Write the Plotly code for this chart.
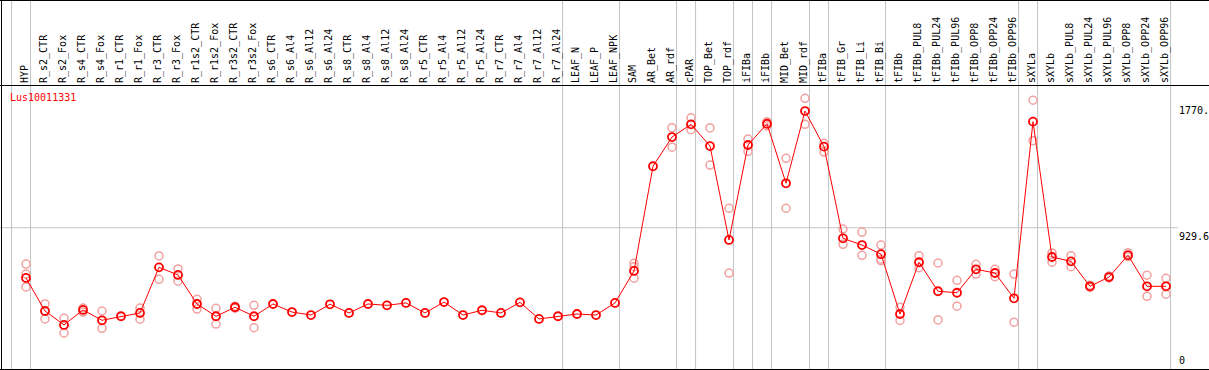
import plotly.graph_objects as go

categories = ["HYP", "R_s2_CTR", "R_s2_Fox", "R_s4_CTR", "R_s4_Fox", "R_r1_CTR", "R_r1_Fox",
              "R_r3_CTR", "R_r3_Fox", "R_r1s2_CTR", "R_r1s2_Fox", "R_r3s2_CTR", "R_r3s2_Fox",
              "R_s6_CTR", "R_s6_Al4", "R_s6_Al12", "R_s6_Al24", "R_s8_CTR", "R_s8_Al4", "R_s8_Al12",
              "R_s8_Al24", "R_r5_CTR", "R_r5_Al4", "R_r5_Al12", "R_r5_Al24", "R_r7_CTR", "R_r7_Al4",
              "R_r7_Al12", "R_r7_Al24", "LEAF_N", "LEAF_P", "LEAF_NPK", "SAM", "AR_Bet", "AR_rdf",
              "cPAR", "TOP_Bet", "TOP_rdf", "iFIBa", "iFIBb", "MID_Bet", "MID_rdf", "tFIBa",
              "tFIB_Gr", "tFIB_Li", "tFIB_Bi", "tFIBb", "tFIBb_PUL8", "tFIBb_PUL24", "tFIBb_PUL96",
              "tFIBb_OPP8", "tFIBb_OPP24", "tFIBb_OPP96", "sXYLa", "sXYLb", "sXYLb_PUL8",
              "sXYLb_PUL24", "sXYLb_PUL96", "sXYLb_OPP8", "sXYLb_OPP24", "sXYLb_OPP96"]

mean_values = [594, 373, 280, 380, 311, 338, 360, 665, 614, 420, 338, 398, 338,
               420, 366, 346, 418, 360, 420, 411, 427, 360, 433, 346, 378, 360, 431,
               320, 338, 353, 346, 427, 641, 1341, 1536, 1621, 1476, 848, 1483, 1625,
               1227, 1710, 1472, 859, 814, 753, 353, 699, 505, 495, 652, 627, 458,
               1639, 734, 705, 538, 600, 746, 538, 538]

rep1_values = [687, 420, 324, 393, 373, None, 393, 741, 654, 451, 391, 405, 411,
               None, None, None, None, None, None, None, None, None, None, None, None, None, None,
               None, None, None, None, None, 692, None, 1599, 1665, 1597, 1060, 1523, 1639,
               1394, 1795, 1494, 921, 901, 814, 398, 743, 694, 578, 685, 652, 620,
               1782, 761, 743, 545, 607, 763, 612, 592]

rep2_values = [534, 320, 226, 366, 257, None, 318, 585, 572, 386, 286, 392, 261,
               None, None, None, None, None, None, None, None, None, None, None, None, None, None,
               None, None, None, None, None, 592, None, 1468, 1585, 1349, 627, 1441, 1610,
               1060, 1621, 1436, 819, 745, 709, 310, 663, 313, 405, 620, 602, 298,
               1512, 699, 669, 531, 594, 736, 471, 485]

rep3_values = [620, None, None, None, None, None, None, None, None, None, None, None, None,
               None, None, None, None, None, None, None, None, None, None, None, None, None, None,
               None, None, None, None, None, 669, None, None, None, None, None, None, None,
               None, None, None, None, None, 719, None, None, None, None, None, None, None,
               None, None, None, None, None, None, None, None]

separator_after = [-1, 0, 28, 31, 34, 35, 37, 38, 39, 41, 42, 45, 52, 53, 60]
y_tick_values = [0, 929.6, 1770]
y_tick_labels = ["0", "929.6", "1770."]
gene_name = "Lus10011331"

W, H = 1209, 370
TOP, BOTTOM = 86, 1
FONT = "DejaVu Sans Mono"

x_idx = list(range(len(categories)))

fig = go.Figure()
rep_color = "#f2a0a0"
for reps in (rep1_values, rep2_values, rep3_values):
    fig.add_trace(go.Scatter(
        x=x_idx, y=reps, mode="markers",
        marker=dict(symbol="circle-open", size=8, color=rep_color, line=dict(width=1.5, color=rep_color)),
        hoverinfo="skip", showlegend=False, cliponaxis=False))

fig.add_trace(go.Scatter(
    x=x_idx, y=mean_values, mode="lines+markers",
    line=dict(color="#ff0000", width=1),
    marker=dict(symbol="circle-open", size=8, color="#ff0000", line=dict(width=1.8, color="#ff0000")),
    showlegend=False))

plot_h = H - TOP - BOTTOM
top_paper = (H - BOTTOM) / plot_h
px_x0 = 26
step = 19
xr = [-px_x0 / step, (W - px_x0) / step]
y_per_px = 6.6858
yr = [(366.8 - (H - BOTTOM)) * y_per_px, (366.8 - TOP) * y_per_px]

shapes = []
for s in separator_after:
    shapes.append(dict(type="line", xref="x", yref="paper", x0=s + 0.24, x1=s + 0.24,
                       y0=0, y1=top_paper, line=dict(color="#c4c4c4", width=1), layer="below"))
shapes.append(dict(type="line", xref="paper", yref="y", x0=0, x1=1178 / W,
                   y0=y_tick_values[1], y1=y_tick_values[1], line=dict(color="#c4c4c4", width=1), layer="below"))
# frame
shapes.append(dict(type="line", xref="paper", yref="paper", x0=0, x1=1, y0=top_paper - 0.5 / plot_h,
                   y1=top_paper - 0.5 / plot_h, line=dict(color="black", width=1)))
shapes.append(dict(type="line", xref="paper", yref="paper", x0=1.5 / W, x1=1.5 / W, y0=0, y1=top_paper,
                   line=dict(color="black", width=1)))

annotations = [dict(text=gene_name, xref="paper", yref="paper", x=8 / W, y=(H - BOTTOM - 90) / plot_h,
                    xanchor="left", yanchor="top", showarrow=False,
                    font=dict(family=FONT, size=10, color="#ff0000"))]
for v, t in zip(y_tick_values, y_tick_labels):
    annotations.append(dict(text=t, xref="paper", yref="y", x=1177 / W, y=v,
                            xanchor="left", yanchor="bottom" if v == 0 else "top", showarrow=False,
                            font=dict(family=FONT, size=10, color="black"),
                            yshift=-1))

fig.update_layout(
    width=W, height=H, margin=dict(l=0, r=0, t=TOP, b=BOTTOM, pad=0, autoexpand=False),
    paper_bgcolor="white", plot_bgcolor="white",
    shapes=shapes, annotations=annotations,
    xaxis=dict(range=xr, side="top", tickmode="array", tickvals=x_idx, ticktext=categories,
               tickangle=-90, tickfont=dict(family=FONT, size=10, color="black"),
               showgrid=False, zeroline=False, showline=True, linecolor="black", linewidth=1,
               mirror=True, ticks="", ticklabelstandoff=0, ticklabelshift=-1, automargin=False),
    yaxis=dict(range=yr, showticklabels=False, showgrid=False, zeroline=False, ticks="",
               automargin=False),
)

fig.write_html("out.html", config={"displayModeBar": False},
               post_script="document.body.style.margin='0';document.body.style.overflow='hidden';")
